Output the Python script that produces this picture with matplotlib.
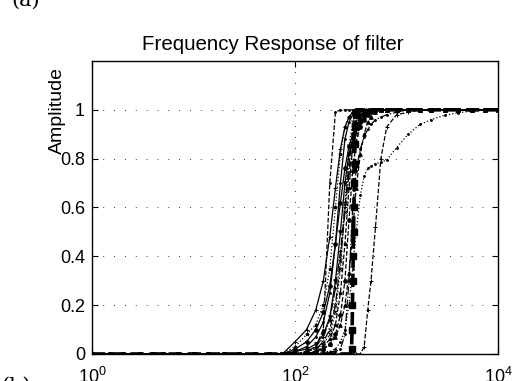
import matplotlib

matplotlib.use("Agg")
import matplotlib.pyplot as plt

plt.rcParams["font.family"] = ["Liberation Sans", "DejaVu Sans"]

# frequencies where every response is still flat at zero
low_freq = [1, 1.5, 2, 3, 4, 5, 7, 10, 14, 20, 28, 40, 55, 75]
# frequencies through the transition band and the passband
band_freq = [100, 130, 160, 190, 220, 250, 280, 310, 340, 370, 400, 440, 480,
             520, 560, 620, 700, 800, 1000, 1300, 1700, 2200, 3000, 4000,
             5500, 7500, 10000]

resp_01 = [0.00, 0.01, 0.03, 0.10, 0.70, 0.99, 1.00, 1.00, 1.00, 1.00, 1.00, 1.00, 1.00,
           1.00, 1.00, 1.00, 1.00, 1.00, 1.00, 1.00, 1.00, 1.00, 1.00, 1.00, 1.00, 1.00, 1.00]
resp_02 = [0.01, 0.03, 0.07, 0.13, 0.25, 0.45, 0.70, 0.88, 0.95, 0.98, 0.99, 1.00, 1.00,
           1.00, 1.00, 1.00, 1.00, 1.00, 1.00, 1.00, 1.00, 1.00, 1.00, 1.00, 1.00, 1.00, 1.00]
resp_03 = [0.00, 0.01, 0.03, 0.07, 0.14, 0.27, 0.42, 0.60, 0.78, 0.90, 0.95, 0.98, 0.99,
           1.00, 1.00, 1.00, 1.00, 1.00, 1.00, 1.00, 1.00, 1.00, 1.00, 1.00, 1.00, 1.00, 1.00]
resp_04 = [0.00, 0.01, 0.02, 0.04, 0.08, 0.17, 0.35, 0.62, 0.85, 0.95, 0.98, 0.99, 1.00,
           1.00, 1.00, 1.00, 1.00, 1.00, 1.00, 1.00, 1.00, 1.00, 1.00, 1.00, 1.00, 1.00, 1.00]
resp_05 = [0.00, 0.00, 0.01, 0.03, 0.06, 0.12, 0.25, 0.45, 0.68, 0.85, 0.93, 0.97, 0.99,
           1.00, 1.00, 1.00, 1.00, 1.00, 1.00, 1.00, 1.00, 1.00, 1.00, 1.00, 1.00, 1.00, 1.00]
resp_06 = [0.02, 0.05, 0.10, 0.17, 0.28, 0.45, 0.62, 0.76, 0.85, 0.90, 0.93, 0.96, 0.98,
           0.99, 1.00, 1.00, 1.00, 1.00, 1.00, 1.00, 1.00, 1.00, 1.00, 1.00, 1.00, 1.00, 1.00]
resp_08 = [0.00, 0.00, 0.00, 0.00, 0.00, 0.00, 0.00, 0.00, 0.00, 0.00, 0.00, 0.00, 0.03,
           0.18, 0.30, 0.52, 0.80, 0.93, 0.98, 0.99, 1.00, 1.00, 1.00, 1.00, 1.00, 1.00, 1.00]
resp_09 = [0.00, 0.00, 0.00, 0.01, 0.01, 0.02, 0.05, 0.10, 0.20, 0.35, 0.50, 0.65, 0.73,
           0.76, 0.77, 0.78, 0.785, 0.795, 0.845, 0.90, 0.94, 0.96, 0.978, 0.988, 0.995, 1.00, 1.00]
resp_10 = [0.00, 0.00, 0.00, 0.00, 0.01, 0.01, 0.02, 0.08, 0.30, 0.60, 0.75, 0.84, 0.89,
           0.92, 0.94, 0.96, 0.97, 0.98, 0.99, 1.00, 1.00, 1.00, 1.00, 1.00, 1.00, 1.00, 1.00]
resp_11 = [0.01, 0.02, 0.04, 0.08, 0.15, 0.30, 0.50, 0.70, 0.82, 0.88, 0.92, 0.95, 0.97,
           0.98, 0.99, 1.00, 1.00, 1.00, 1.00, 1.00, 1.00, 1.00, 1.00, 1.00, 1.00, 1.00, 1.00]
resp_12 = [0.00, 0.00, 0.01, 0.02, 0.04, 0.08, 0.16, 0.30, 0.55, 0.75, 0.87, 0.93, 0.96,
           0.98, 0.99, 1.00, 1.00, 1.00, 1.00, 1.00, 1.00, 1.00, 1.00, 1.00, 1.00, 1.00, 1.00]
resp_13 = [0.03, 0.08, 0.12, 0.20, 0.35, 0.60, 0.82, 0.93, 0.97, 0.99, 1.00, 1.00, 1.00,
           1.00, 1.00, 1.00, 1.00, 1.00, 1.00, 1.00, 1.00, 1.00, 1.00, 1.00, 1.00, 1.00, 1.00]
resp_14 = [0.00, 0.01, 0.02, 0.05, 0.10, 0.20, 0.38, 0.58, 0.74, 0.84, 0.90, 0.94, 0.96,
           0.98, 0.99, 1.00, 1.00, 1.00, 1.00, 1.00, 1.00, 1.00, 1.00, 1.00, 1.00, 1.00, 1.00]
resp_15 = [0.00, 0.00, 0.01, 0.02, 0.04, 0.07, 0.12, 0.20, 0.33, 0.50, 0.68, 0.82, 0.90,
           0.95, 0.97, 0.99, 1.00, 1.00, 1.00, 1.00, 1.00, 1.00, 1.00, 1.00, 1.00, 1.00, 1.00]
resp_16 = [0.05, 0.10, 0.18, 0.30, 0.48, 0.68, 0.84, 0.93, 0.97, 0.99, 1.00, 1.00, 1.00,
           1.00, 1.00, 1.00, 1.00, 1.00, 1.00, 1.00, 1.00, 1.00, 1.00, 1.00, 1.00, 1.00, 1.00]

# the heavy dashed response with square markers
sq_freq = [1, 350, 360, 365, 368, 371, 374, 377, 380, 383, 386, 389, 392, 395, 400, 10000]
sq_amp = [0.00, 0.00, 0.02, 0.10, 0.20, 0.30, 0.40, 0.50, 0.60, 0.70, 0.78, 0.86, 0.93,
          0.98, 1.00, 1.00]

x_ticks = [1, 100, 10000]
y_ticks = [0, 0.2, 0.4, 0.6, 0.8, 1.0]
y_tick_labels = ["0", "0.2", "0.4", "0.6", "0.8", "1"]

curves = [
    (resp_01, "--", "."),
    (resp_02, "-", "."),
    (resp_03, "-.", "+"),
    (resp_04, ":", "x"),
    (resp_05, "--", "*"),
    (resp_06, "-", "o"),
    (resp_08, "--", "+"),
    (resp_09, ":", "."),
    (resp_10, "-.", "."),
    (resp_11, "-", "v"),
    (resp_12, "--", "o"),
    (resp_13, ":", "*"),
    (resp_14, "-.", "x"),
    (resp_15, "--", "^"),
    (resp_16, "-", "+"),
]

fig = plt.figure(figsize=(5.14, 3.81), dpi=100)
ax = fig.add_axes([0.179, 0.0709, 0.790, 0.769])

freq = low_freq + band_freq
for resp, ls, mk in curves:
    amp = [0.0] * len(low_freq) + resp
    ax.plot(freq, amp, color="k", linestyle=ls, linewidth=0.9,
            marker=mk, markersize=2.6, markeredgewidth=0.7)

ax.plot(sq_freq, sq_amp, color="k", linestyle="--", linewidth=2.6,
        marker="s", markersize=5, markevery=list(range(2, 14)))

ax.set_xscale("log")
ax.set_xlim(1, 10000)
ax.set_ylim(0, 1.2)
ax.set_xticks(x_ticks)
ax.set_yticks(y_ticks)
ax.set_yticklabels(y_tick_labels)
ax.minorticks_off()
ax.tick_params(direction="in", length=4, width=0.8, top=True, right=True,
               labelsize=13, pad=5)
ax.tick_params(axis="x", pad=9)
ax.grid(True, color="k", linestyle=(0, (1, 12)), linewidth=0.6)
for spine in ax.spines.values():
    spine.set_linewidth(1.0)

ax.set_title("Frequency Response of filter", fontsize=14.8, pad=8, x=0.445)
ax.set_ylabel("Amplitude", fontsize=14)
ax.yaxis.set_label_coords(-0.064, 0.83)

fig.text(0.022, 0.984, "(a)", family="DejaVu Serif", fontsize=15, va="baseline")
fig.text(0.002, 0.012, "(b)", family="DejaVu Serif", fontsize=15, va="top")

fig.savefig("out.png", dpi=100)
plt.close(fig)
